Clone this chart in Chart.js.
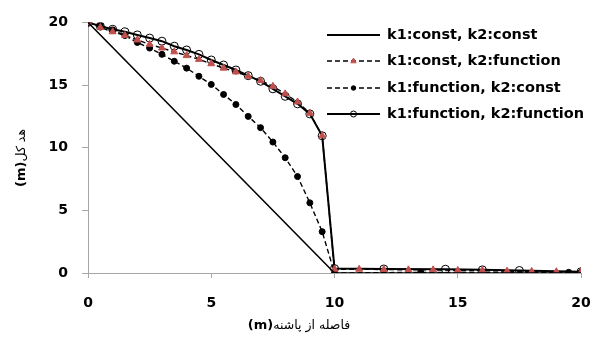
<!DOCTYPE html>
<html>
<head>
<meta charset="utf-8">
<script src="https://cdn.jsdelivr.net/npm/chart.js@4/dist/chart.umd.min.js"></script>
<style>
  html, body { margin: 0; padding: 0; background: #fff; }
</style>
</head>
<body>
<canvas id="chart" width="592" height="347"></canvas>
<script>
// series data (x = distance, y = head)
const constConstX = [0, 10, 20];
const constConstY = [20, 0, 0];

const constFuncX = [0, 0.5, 1, 1.5, 2, 2.5, 3, 3.5, 4, 4.5, 5, 5.5, 6, 6.5, 7, 7.5, 8, 8.5, 9, 9.5, 10, 11, 12, 13, 14, 15, 16, 17, 18, 19, 20];
const constFuncY = [20, 19.6, 19.25, 18.95, 18.6, 18.25, 17.95, 17.65, 17.35, 17.05, 16.7, 16.35, 16.05, 15.7, 15.35, 14.9, 14.3, 13.65, 12.75, 10.95, 0.3, 0.3, 0.28, 0.25, 0.25, 0.2, 0.2, 0.15, 0.12, 0.1, 0.05];

const funcConstX = [0, 0.5, 1, 1.5, 2, 2.5, 3, 3.5, 4, 4.5, 5, 5.5, 6, 6.5, 7, 7.5, 8, 8.5, 9, 9.5, 10, 13.5, 19.5, 20];
const funcConstY = [20, 19.75, 19.4, 18.95, 18.4, 17.95, 17.45, 16.9, 16.35, 15.7, 15.05, 14.25, 13.45, 12.5, 11.6, 10.45, 9.2, 7.7, 5.6, 3.3, 0, 0.05, 0.05, 0.05];

const funcFuncX = [0, 0.5, 1, 1.5, 2, 2.5, 3, 3.5, 4, 4.5, 5, 5.5, 6, 6.5, 7, 7.5, 8, 8.5, 9, 9.5, 10, 12, 14.5, 16, 17.5, 20];
const funcFuncY = [20, 19.7, 19.45, 19.25, 19.0, 18.75, 18.5, 18.1, 17.8, 17.45, 17.0, 16.6, 16.2, 15.75, 15.3, 14.7, 14.1, 13.5, 12.7, 10.95, 0.35, 0.32, 0.3, 0.25, 0.2, 0.1];

const seriesLabels = ['k1:const, k2:const', 'k1:const, k2:function', 'k1:function, k2:const', 'k1:function, k2:function'];
const xTicks = [0, 5, 10, 15, 20];
const yTicks = [0, 5, 10, 15, 20];
const xTitle = 'فاصله از پاشنه';
const yTitle = 'هد کل';
const unitText = '(m)';

const redMark = '#c0504d';
const axisGray = '#a6a6a6';

function toPoints(xs, ys) {
    return xs.map((x, i) => ({ x: x, y: ys[i] }));
}

// legend drawn on top of the plot, like the original
const legendPlugin = {
    id: 'customLegend',
    afterDraw(chart) {
        const ctx = chart.ctx;
        const lx0 = 327, lx1 = 380, tx = 387;
        const rows = [35, 61, 88, 114];
        ctx.save();
        chart.data.datasets.forEach((ds, i) => {
            const y = rows[i];
            ctx.strokeStyle = '#000';
            ctx.lineWidth = i === 0 ? 2 : ds.borderWidth;
            ctx.setLineDash(ds.borderDash || []);
            ctx.beginPath();
            ctx.moveTo(lx0, y);
            ctx.lineTo(lx1, y);
            ctx.stroke();
            ctx.setLineDash([]);
            const mx = (lx0 + lx1) / 2;
            if (ds.pointRadius > 0) {
                const r = ds.pointRadius * 0.75;
                ctx.fillStyle = ds.pointBackgroundColor;
                ctx.strokeStyle = ds.pointBorderColor;
                ctx.lineWidth = 1;
                ctx.beginPath();
                if (ds.pointStyle === 'triangle') {
                    ctx.moveTo(mx, y - r);
                    ctx.lineTo(mx + r * 0.9, y + r * 0.6);
                    ctx.lineTo(mx - r * 0.9, y + r * 0.6);
                    ctx.closePath();
                } else {
                    ctx.arc(mx, y, r, 0, Math.PI * 2);
                }
                ctx.fill();
                ctx.stroke();
            }
            ctx.fillStyle = '#000';
            ctx.font = 'bold 14.5px "DejaVu Sans"';
            ctx.textBaseline = 'middle';
            ctx.textAlign = 'left';
            ctx.fillText(ds.label, tx, y);
        });
        ctx.restore();
    }
};

// axis titles: bold unit + regular persian text
const titlePlugin = {
    id: 'axisTitles',
    afterDraw(chart) {
        const ctx = chart.ctx;
        ctx.save();
        ctx.textBaseline = 'middle';
        ctx.textAlign = 'left';
        ctx.direction = 'ltr';
        ctx.fillStyle = '#000';

        // x title
        ctx.font = 'bold 13px "DejaVu Sans"';
        const w1 = ctx.measureText(unitText).width;
        ctx.font = '12.5px "DejaVu Sans"';
        let w2 = ctx.measureText(xTitle).width;
        let start = 299 - (w1 + w2) / 2;
        ctx.font = 'bold 13px "DejaVu Sans"';
        ctx.fillText(unitText, start, 326);
        ctx.font = '12.5px "DejaVu Sans"';
        ctx.fillText(xTitle, start + w1, 326);

        // y title, rotated
        ctx.translate(22, 158);
        ctx.rotate(-Math.PI / 2);
        ctx.font = '12.5px "DejaVu Sans"';
        w2 = ctx.measureText(yTitle).width;
        start = -(w1 + w2) / 2;
        ctx.font = 'bold 13px "DejaVu Sans"';
        ctx.fillText(unitText, start, 0);
        ctx.font = '12.5px "DejaVu Sans"';
        ctx.fillText(yTitle, start + w1, 0);
        ctx.restore();
    }
};

const ctx = document.getElementById('chart').getContext('2d');
const chart = new Chart(ctx, {
    type: 'line',
    data: {
        datasets: [{
            label: seriesLabels[0],
            data: toPoints(constConstX, constConstY),
            borderColor: '#000',
            borderWidth: 1.5,
            pointRadius: 0,
        }, {
            label: seriesLabels[1],
            data: toPoints(constFuncX, constFuncY),
            borderColor: '#000',
            borderWidth: 1.4,
            borderDash: [5, 3],
            pointStyle: 'triangle',
            pointRadius: 4,
            pointBackgroundColor: redMark,
            pointBorderColor: redMark,
            pointBorderWidth: 1,
        }, {
            label: seriesLabels[2],
            data: toPoints(funcConstX, funcConstY),
            borderColor: '#000',
            borderWidth: 1.4,
            borderDash: [5, 3],
            pointStyle: 'circle',
            pointRadius: 3,
            pointBackgroundColor: '#000',
            pointBorderColor: '#000',
            pointBorderWidth: 1,
        }, {
            label: seriesLabels[3],
            data: toPoints(funcFuncX, funcFuncY),
            borderColor: '#000',
            borderWidth: 2,
            pointStyle: 'circle',
            pointRadius: 4,
            pointBackgroundColor: 'rgba(255,255,255,0)',
            pointBorderColor: '#000',
            pointBorderWidth: 1,
        }]
    },
    options: {
        responsive: false,
        animation: false,
        layout: { padding: { top: 22, right: 11, left: 0, bottom: 0 } },
        plugins: {
            legend: { display: false },
            tooltip: { enabled: false },
        },
        elements: { line: { tension: 0 } },
        scales: {
            x: {
                type: 'linear',
                min: 0,
                max: 20,
                afterBuildTicks: (scale) => { scale.ticks = xTicks.map(v => ({ value: v })); },
                afterFit: (scale) => { scale.height = 74; scale.paddingLeft = 0; scale.paddingRight = 0; },
                grid: { drawOnChartArea: false, color: axisGray, tickLength: 5 },
                border: { color: axisGray, width: 1 },
                ticks: {
                    padding: 17,
                    color: '#000',
                    font: { family: 'DejaVu Sans', size: 14, weight: 'bold' },
                    maxRotation: 0,
                },
            },
            y: {
                type: 'linear',
                min: 0,
                max: 20,
                afterBuildTicks: (scale) => { scale.ticks = yTicks.map(v => ({ value: v })); },
                afterFit: (scale) => { scale.width = 88; },
                grid: { drawOnChartArea: false, color: axisGray, tickLength: 6 },
                border: { color: axisGray, width: 1 },
                ticks: {
                    padding: 14,
                    color: '#000',
                    font: { family: 'DejaVu Sans', size: 14, weight: 'bold' },
                },
            }
        }
    },
    plugins: [legendPlugin, titlePlugin]
});
</script>
</body>
</html>
